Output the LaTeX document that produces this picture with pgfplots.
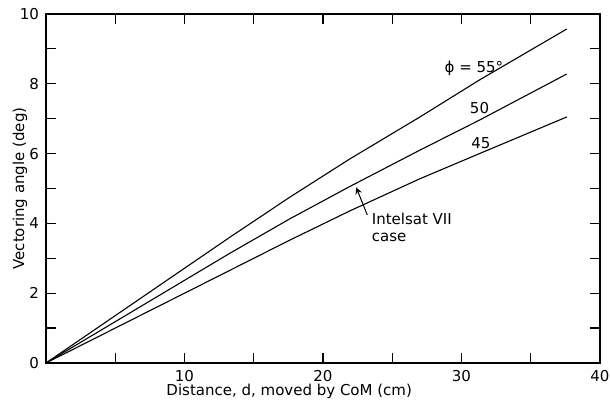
\documentclass[border=0pt]{standalone}
\usepackage{pgfplots}
\pgfplotsset{compat=1.18}
\usepackage{fontspec}
\setmainfont{DejaVu Sans}
\begin{document}
\begin{tikzpicture}
\useasboundingbox (-23pt,-19pt) rectangle (282pt,181.5pt);
\begin{axis}[
  scale only axis,
  width=277pt, height=174.5pt,
  anchor=south west, at={(0,0)},
  xmin=0, xmax=40, ymin=0, ymax=10,
  xtick={10,20,30,40},
  minor xtick={5,15,25,35},
  ytick={0,2,4,6,8,10},
  minor ytick={1,3,5,7,9},
  tick align=inside,
  major tick length=5pt, minor tick length=5pt,
  every tick/.style={black, line width=0.6pt},
  axis line style={line width=1.1pt},
  /pgf/number format/assume math mode=true,
  tick label style={font=\fontsize{7.5}{9}\selectfont},
  label style={font=\fontsize{7.5}{9}\selectfont},
  xlabel={Distance, d, moved by CoM (cm)},
  ylabel={Vectoring angle (deg)},
  xlabel style={at={(axis description cs:0.439,-0.08)}, anchor=center},
  ylabel style={at={(axis description cs:-0.047,0.5)}, anchor=center},
  clip=false,
]
\addplot[black, line width=0.55pt] coordinates {(0,0) (13.3,3.61) (17.6,4.75) (21.95,5.85) (27.0,7.05) (31.3,8.11) (37.6,9.57)};
\addplot[black, line width=0.55pt] coordinates {(0,0) (13.3,3.15) (17.6,4.13) (21.95,5.06) (27.0,6.10) (31.3,6.96) (37.6,8.28)};
\addplot[black, line width=0.55pt] coordinates {(0,0) (13.3,2.66) (17.6,3.52) (21.95,4.36) (27.0,5.28) (31.3,6.00) (37.6,7.05)};
\node[font=\fontsize{7.5}{9}\selectfont] at (axis cs:30.9,8.45) {ϕ = 55°};
\node[font=\fontsize{7.5}{9}\selectfont] at (axis cs:31.3,7.31) {50};
\node[font=\fontsize{7.5}{9}\selectfont] at (axis cs:31.4,6.30) {45};
\draw[-stealth, line width=0.5pt] (axis cs:23.2,4.24) -- (axis cs:22.4,5.03);
\node[font=\fontsize{7.5}{8.5}\selectfont, align=left, anchor=north west, inner sep=0pt] at (axis cs:23.5,4.30) {Intelsat VII\\case};
\end{axis}
\end{tikzpicture}
\end{document}
